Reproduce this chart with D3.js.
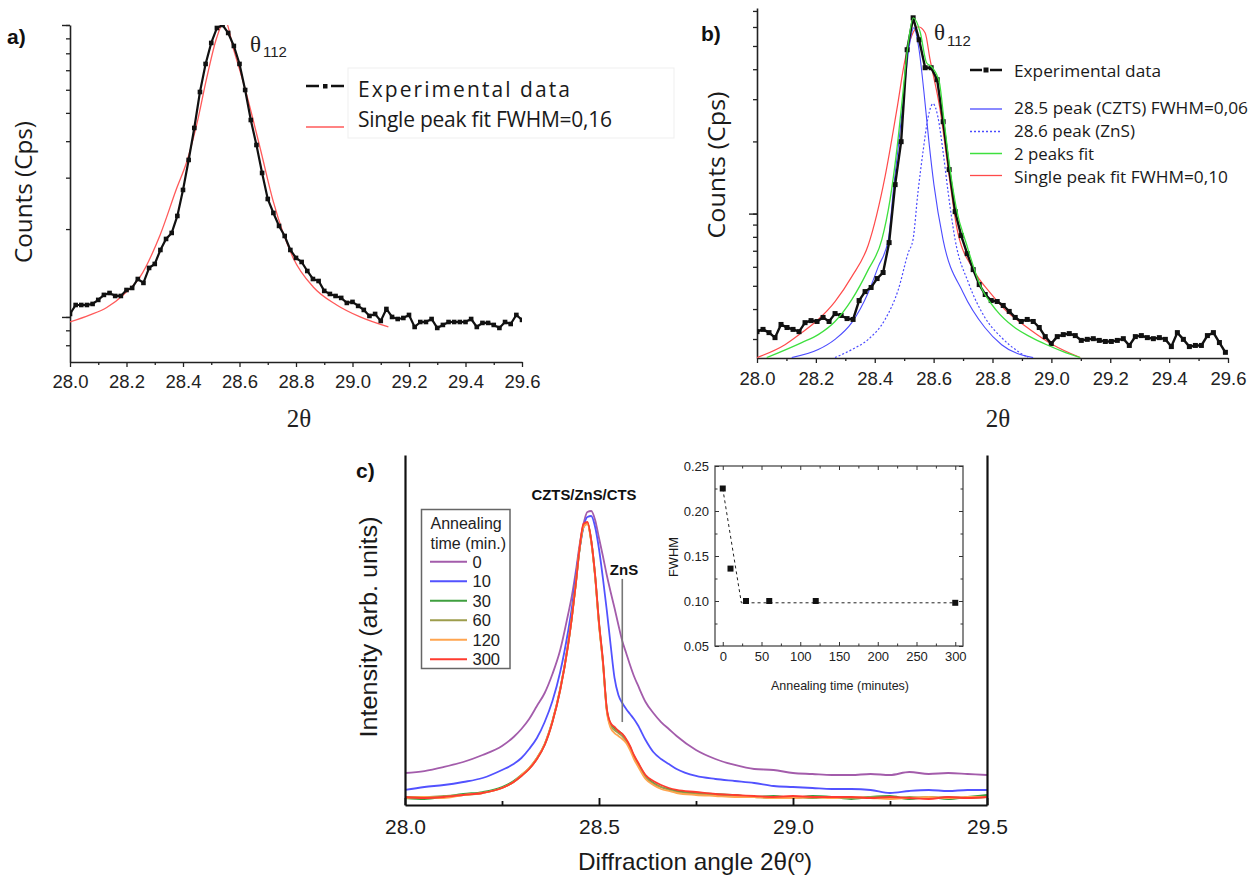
<!DOCTYPE html>
<html>
<head>
<meta charset="utf-8">
<script src="https://cdn.jsdelivr.net/npm/d3@7"></script>
<style>
  body { margin: 0; background: #fff; }
  svg { display: block; }
</style>
</head>
<body>
<svg id="fig" width="1260" height="879"></svg>
<script>
// ---------------- panel a: single XRD peak, single-peak fit ----------------
const aStart = 28.0, aStep = 0.02;
const countsA = [1024,1099,1099,1099,1108,1144,1190,1208,1180,1180,1237,1257,1349,1308,1472,1519,1696,1850,1940,2218,
  2723,3450,4440,5896,7356,8680,9768,10000,9391,8477,7356,5990,4727,3882,3113,2536,2271,2050,1894,1696,
  1593,1543,1437,1349,1328,1228,1199,1180,1162,1117,1126,1091,1057,1008,1024,969,1065,1000,984,992,
  1016,924,961,961,984,917,939,961,961,961,961,984,924,954,954,939,917,961,946,1016,977];
const fitA2Theta = [28.00,28.071,28.13,28.189,28.248,28.319,28.378,28.413,28.448,28.484,28.519,28.549,28.578,28.619,28.673,28.72,28.79,28.861,28.944,29.027,29.127];
const fitACounts = [961,1016,1078,1190,1371,1910,2765,3393,4537,6587,9027,10400,8327,6086,3790,2477,1593,1267,1099,1000,924];

// ---------------- panel b: peak split into CZTS + ZnS ----------------
const bStart = 28.0, bStep = 0.0204;
const countsB = [322,329,319,304,345,335,329,322,351,358,355,369,355,383,376,365,362,434,473,492,
  536,568,757,1321,1995,4823,6554,5309,4058,4058,3617,2417,1526,1019,810,681,584,506,460,434,
  430,414,391,369,355,362,355,335,307,287,307,313,316,310,296,299,301,296,293,293,
  296,301,282,307,310,304,301,304,299,279,319,299,279,282,282,310,319,290,264];
const cztsPeak2Theta = [28.118,28.208,28.265,28.322,28.378,28.412,28.446,28.465,28.482,28.499,28.516,28.533,28.550,28.567,28.584,28.601,28.632,28.700,28.774,28.831,28.938];
const cztsPeakCounts = [251,271,299,351,469,601,779,1321,1995,3162,4870,5957,4870,3224,1995,1321,779,469,335,284,251];
const znsPeak2Theta = [28.265,28.322,28.378,28.435,28.480,28.514,28.530,28.547,28.564,28.581,28.598,28.615,28.632,28.649,28.673,28.718,28.774,28.831,28.887,28.920];
const znsPeakCounts = [251,271,299,362,482,688,779,1235,1813,2512,2873,2512,1813,1235,779,516,369,304,266,251];
const twoPeak2Theta = [28.033,28.152,28.208,28.265,28.322,28.378,28.424,28.452,28.475,28.495,28.513,28.531,28.554,28.576,28.593,28.619,28.635,28.656,28.678,28.712,28.757,28.814,28.871,28.927,28.984,29.040,29.098];
const twoPeakCounts = [251,290,313,355,438,584,779,1144,1848,3131,5061,6554,5733,4257,4097,3548,2465,1526,1039,743,506,394,338,307,284,266,251];
const singleB2Theta = [28.0,28.095,28.152,28.208,28.265,28.322,28.378,28.435,28.475,28.503,28.527,28.548,28.571,28.588,28.622,28.653,28.678,28.735,28.791,28.842,28.927,29.005,29.098];
const singleBCounts = [251,284,319,362,430,546,740,1426,2713,4382,5569,6015,5678,4382,2713,1426,883,584,469,398,329,284,251];

// ---------------- panel c: annealing series ----------------
const c2Theta = [28.00,28.05,28.10,28.15,28.20,28.25,28.28,28.30,28.32,28.34,28.36,28.38,28.40,28.42,28.43,28.44,28.45,28.46,
  28.47,28.48,28.49,28.50,28.51,28.52,28.53,28.54,28.55,28.56,28.57,28.58,28.59,28.60,28.62,28.64,28.66,28.68,28.70,
  28.75,28.80,28.85,28.90,28.95,29.00,29.05,29.10,29.15,29.20,29.25,29.30,29.35,29.40,29.45,29.50];
const intensity0 = [9.14,9.71,10.86,12.29,14.29,16.86,19.43,21.71,24.57,28.29,32.0,37.43,44.29,54.29,59.71,66.57,74.29,80.29,
  83.71,84.0,81.43,76.29,71.14,65.71,60.86,56.29,51.43,46.86,43.43,40.0,36.86,34.29,29.43,26.29,23.71,21.71,19.71,
  15.71,13.14,11.43,10.29,10.0,9.14,8.86,8.57,8.57,8.86,8.57,9.43,8.86,9.14,8.86,8.57];
const intensity10 = [4.29,5.14,5.71,6.57,7.71,10.0,11.71,13.43,16.0,19.14,23.71,29.71,38.0,49.43,56.29,65.14,73.14,79.43,
  82.29,82.57,79.43,73.14,64.86,55.71,45.71,36.29,31.43,29.14,27.43,26.0,24.57,22.86,18.57,15.14,13.14,11.71,10.29,
  8.29,7.43,6.86,6.29,5.43,5.14,4.86,4.57,4.57,4.29,3.43,4.0,4.29,4.0,4.29,4.29];
const intensity30 = [2.0,1.71,2.29,3.14,3.71,5.14,6.86,8.57,10.57,13.43,17.43,24.0,33.14,45.71,53.71,63.14,73.14,79.43,
  80.57,75.43,65.43,52.0,41.14,27.43,23.14,22.0,21.14,20.29,18.57,16.57,14.0,12.0,8.29,6.29,5.14,4.57,4.0,
  3.43,3.14,2.86,2.29,2.57,2.0,2.57,2.29,1.71,2.29,2.57,1.71,2.29,1.71,2.29,2.86];
const intensity60 = [2.29,2.29,2.57,2.86,3.43,4.86,6.57,8.29,10.29,13.14,17.14,23.71,32.86,45.43,53.43,62.86,73.14,79.71,
  80.57,75.43,65.43,51.71,40.86,27.14,22.57,21.43,20.57,19.71,18.29,16.29,13.71,11.71,8.0,6.0,5.14,4.29,3.71,
  3.14,2.86,2.57,2.29,2.0,2.29,2.0,2.29,2.0,2.29,2.0,2.29,2.0,2.29,2.0,2.29];
const intensity120 = [2.0,2.29,2.0,2.86,3.43,4.86,6.57,8.57,10.57,13.43,17.43,24.0,33.14,45.71,53.71,63.14,73.43,79.43,
  80.29,75.14,65.14,51.43,40.57,26.86,22.0,20.57,19.71,18.86,17.71,15.71,13.14,11.14,7.43,5.71,4.57,4.0,3.43,
  2.86,2.57,2.29,2.29,2.0,2.0,2.29,2.0,2.29,2.0,1.71,2.0,2.29,2.0,2.29,2.29];
const intensity300 = [2.29,2.0,2.29,2.86,3.43,4.86,6.57,8.29,10.29,13.14,17.14,23.71,32.86,45.43,53.43,62.86,73.43,80.29,
  80.86,75.71,65.71,52.29,41.43,27.71,23.43,22.29,21.14,20.29,18.86,16.86,14.29,12.29,8.57,6.86,5.71,4.86,4.29,
  3.71,3.14,2.86,2.57,2.29,2.57,2.29,2.29,2.29,2.0,2.29,2.0,1.71,2.29,2.0,2.29];
const annealingLabels = ["0", "10", "30", "60", "120", "300"];
const annealingColors = ["#a35cab", "#5252ff", "#3f9f3f", "#9d9d4c", "#ffa54f", "#ff3b2f"];
const znsMarker2Theta = 28.56;

// inset: FWHM vs annealing time
const annealTimes = [0, 10, 30, 60, 120, 300];
const fwhmValues = [0.225, 0.136, 0.100, 0.100, 0.100, 0.098];
const trendTimes = [0, 24, 300];
const trendFwhm = [0.225, 0.098, 0.098];

// tick values
const xTicksAB = [28.0, 28.2, 28.4, 28.6, 28.8, 29.0, 29.2, 29.4, 29.6];
const xMinorAB = [28.1, 28.3, 28.5, 28.7, 28.9, 29.1, 29.3, 29.5];
const logTicksA = [800, 900, 1000, 2000, 3000, 4000, 5000, 6000, 7000, 8000, 9000, 10000];
const logMajorA = [1000, 10000];
const logTicksB = [300, 400, 500, 600, 700, 800, 900, 1000, 2000, 3000, 4000, 5000, 6000, 7000];
const logMajorB = [1000];
const xTicksC = [28.0, 28.5, 29.0, 29.5];
const xMinorC = [28.25, 28.75, 29.25];
const insetXTicks = [0, 50, 100, 150, 200, 250, 300];
const insetXMinor = [25, 75, 125, 175, 225, 275];
const insetYTicks = [0.05, 0.10, 0.15, 0.20, 0.25];
const insetYMinor = [0.075, 0.125, 0.175, 0.225];

const SANS = "'Liberation Sans', Arial, sans-serif";
const OPEN = "'Open Sans', 'DejaVu Sans', sans-serif";
const SERIF = "'Liberation Serif', 'Times New Roman', serif";

const svg = d3.select("#fig");
const defs = svg.append("defs");

function styleAxis(ax, color, width) {
  ax.select(".domain").attr("stroke", color).attr("stroke-width", width);
  ax.selectAll(".tick line").attr("stroke", color).attr("stroke-width", Math.max(1, width - 0.3));
}

function bottomAxisAB(x, y0, pad) {
  const major = svg.append("g").attr("transform", `translate(0,${y0})`)
    .call(d3.axisBottom(x).tickValues(xTicksAB).tickFormat(d3.format(".1f"))
      .tickSize(5).tickSizeOuter(0).tickPadding(pad));
  styleAxis(major, "#222", 1.6);
  major.selectAll("text").attr("font-family", SANS).attr("font-size", 18.5).attr("fill", "#222");
  const minor = svg.append("g").attr("transform", `translate(0,${y0})`)
    .call(d3.axisBottom(x).tickValues(xMinorAB).tickFormat("").tickSize(3).tickSizeOuter(0));
  minor.select(".domain").remove();
  minor.selectAll(".tick line").attr("stroke", "#222").attr("stroke-width", 1.3);
}

function leftLogAxis(y, x0, ticks, majors) {
  const ax = svg.append("g").attr("transform", `translate(${x0},0)`)
    .call(d3.axisLeft(y).tickValues(ticks).tickFormat("").tickSize(4).tickSizeOuter(0));
  styleAxis(ax, "#222", 1.6);
  const mj = svg.append("g").attr("transform", `translate(${x0},0)`)
    .call(d3.axisLeft(y).tickValues(majors).tickFormat("").tickSize(8).tickSizeOuter(0));
  mj.select(".domain").remove();
  mj.selectAll(".tick line").attr("stroke", "#222").attr("stroke-width", 1.4);
}

function verticalTitle(text, x, y, size, len, family) {
  svg.append("text").attr("transform", `translate(${x},${y}) rotate(-90)`)
    .attr("text-anchor", "middle").attr("font-family", family).attr("font-size", size)
    .attr("fill", "#1a1a1a").attr("textLength", len).attr("lengthAdjust", "spacingAndGlyphs").text(text);
}

function thetaLabel(x, y, yb) {
  const t = svg.append("text").attr("font-family", SERIF).attr("fill", "#222");
  t.append("tspan").attr("x", x).attr("y", y).attr("font-size", 23).text("θ");
  t.append("tspan").attr("x", x + 13).attr("y", yb).attr("font-family", SANS).attr("font-size", 15).text("112");
}

// =============== panel a ===============
const xA = d3.scaleLinear().domain([28, 29.6]).range([70, 522]);
const yA = d3.scaleLog().domain([701, 10000]).range([362, 25]);
defs.append("clipPath").attr("id", "clipA").append("rect").attr("x", 70).attr("y", 25).attr("width", 452).attr("height", 337);

bottomAxisAB(xA, 362, 8);
leftLogAxis(yA, 70, logTicksA, logMajorA);

const gA = svg.append("g").attr("clip-path", "url(#clipA)");
gA.append("path")
  .attr("d", d3.line().x((d, i) => xA(fitA2Theta[i])).y(d => yA(d)).curve(d3.curveMonotoneX)(fitACounts))
  .attr("fill", "none").attr("stroke", "#ff5a5a").attr("stroke-width", 1.3);
gA.append("path")
  .attr("d", d3.line().x((d, i) => xA(aStart + i * aStep)).y(d => yA(d))(countsA))
  .attr("fill", "none").attr("stroke", "#111").attr("stroke-width", 2.2);
gA.selectAll("rect.mk").data(countsA).join("rect").attr("class", "mk")
  .attr("x", (d, i) => xA(aStart + i * aStep) - 2.3).attr("y", d => yA(d) - 2.3)
  .attr("width", 4.6).attr("height", 4.6).attr("fill", "#111");

svg.append("text").attr("x", 7).attr("y", 44).attr("font-family", SANS).attr("font-weight", "bold")
  .attr("font-size", 21).attr("fill", "#111").text("a)");
thetaLabel(250, 52, 57);
verticalTitle("Counts (Cps)", 32, 192, 24, 142, OPEN);
svg.append("text").attr("x", 299).attr("y", 427).attr("text-anchor", "middle").attr("font-family", SERIF)
  .attr("font-size", 25).attr("fill", "#222").text("2θ");

// legend a
svg.append("rect").attr("x", 348).attr("y", 68).attr("width", 326).attr("height", 70)
  .attr("fill", "none").attr("stroke", "#efefef").attr("stroke-width", 1);
svg.append("path").attr("d", "M306,86H319M331,86H344").attr("stroke", "#111").attr("stroke-width", 2.6);
svg.append("rect").attr("x", 323).attr("y", 84).attr("width", 4.5).attr("height", 4.5).attr("fill", "#111");
svg.append("line").attr("x1", 306).attr("x2", 344).attr("y1", 127).attr("y2", 127)
  .attr("stroke", "#ff5a5a").attr("stroke-width", 1.3);
svg.append("text").attr("x", 358).attr("y", 96.5).attr("font-family", OPEN).attr("font-size", 21)
  .attr("fill", "#1a1a1a").attr("textLength", 212).attr("lengthAdjust", "spacing").text("Experimental data");
svg.append("text").attr("x", 358).attr("y", 126.5).attr("font-family", OPEN).attr("font-size", 21)
  .attr("fill", "#1a1a1a").attr("textLength", 254).attr("lengthAdjust", "spacing").text("Single peak fit FWHM=0,16");

// =============== panel b ===============
const xB = d3.scaleLinear().domain([28, 29.6]).range([757, 1228]);
const yB = d3.scaleLog().domain([250, 7200]).range([358, 8]);
defs.append("clipPath").attr("id", "clipB").append("rect").attr("x", 757).attr("y", 8).attr("width", 471).attr("height", 350);

bottomAxisAB(xB, 358, 8.5);
leftLogAxis(yB, 757, logTicksB, logMajorB);

const gB = svg.append("g").attr("clip-path", "url(#clipB)");
const fitLine = (xs) => d3.line().x((d, i) => xB(xs[i])).y(d => yB(d)).curve(d3.curveMonotoneX);
gB.append("path").attr("d", fitLine(singleB2Theta)(singleBCounts))
  .attr("fill", "none").attr("stroke", "#ff4a4a").attr("stroke-width", 1.2);
gB.append("path").attr("d", fitLine(znsPeak2Theta)(znsPeakCounts))
  .attr("fill", "none").attr("stroke", "#4b4bff").attr("stroke-width", 1.2).attr("stroke-dasharray", "2,2");
gB.append("path").attr("d", fitLine(cztsPeak2Theta)(cztsPeakCounts))
  .attr("fill", "none").attr("stroke", "#4b4bff").attr("stroke-width", 1.1);
gB.append("path")
  .attr("d", d3.line().x((d, i) => xB(bStart + i * bStep)).y(d => yB(d))(countsB))
  .attr("fill", "none").attr("stroke", "#111").attr("stroke-width", 2.4);
gB.selectAll("rect.mk").data(countsB).join("rect").attr("class", "mk")
  .attr("x", (d, i) => xB(bStart + i * bStep) - 2.5).attr("y", d => yB(d) - 2.5)
  .attr("width", 5).attr("height", 5).attr("fill", "#111");
gB.append("path").attr("d", fitLine(twoPeak2Theta)(twoPeakCounts))
  .attr("fill", "none").attr("stroke", "#3ee03e").attr("stroke-width", 1.3);

svg.append("text").attr("x", 701).attr("y", 41).attr("font-family", SANS).attr("font-weight", "bold")
  .attr("font-size", 21).attr("fill", "#111").text("b)");
thetaLabel(934, 40, 46);
verticalTitle("Counts (Cps)", 725, 165, 24.5, 147, OPEN);
svg.append("text").attr("x", 998).attr("y", 427).attr("text-anchor", "middle").attr("font-family", SERIF)
  .attr("font-size", 25).attr("fill", "#222").text("2θ");

// legend b
const legB = [
  { label: "Experimental data", y: 70, ty: 77, len: 147, color: "#111", dash: null, w: 2.6 },
  { label: "28.5 peak (CZTS) FWHM=0,06", y: 109, ty: 114, len: 234, color: "#4b4bff", dash: null, w: 1.3 },
  { label: "28.6 peak (ZnS)", y: 131.5, ty: 137, len: 121, color: "#4b4bff", dash: "2,2", w: 1.4 },
  { label: "2 peaks fit", y: 153.5, ty: 160, len: 80, color: "#3ee03e", dash: null, w: 1.5 },
  { label: "Single peak fit FWHM=0,10", y: 175.5, ty: 183, len: 214, color: "#ff4a4a", dash: null, w: 1.3 }
];
legB.forEach((d, i) => {
  if (i === 0) {
    svg.append("path").attr("d", `M970,${d.y}H982M990,${d.y}H1002`).attr("stroke", d.color).attr("stroke-width", d.w);
    svg.append("rect").attr("x", 983.5).attr("y", d.y - 2.5).attr("width", 5).attr("height", 5).attr("fill", "#111");
  } else {
    svg.append("line").attr("x1", 970).attr("x2", 1002).attr("y1", d.y).attr("y2", d.y)
      .attr("stroke", d.color).attr("stroke-width", d.w).attr("stroke-dasharray", d.dash);
  }
  svg.append("text").attr("x", 1014).attr("y", d.ty).attr("font-family", OPEN).attr("font-size", 17)
    .attr("fill", "#1a1a1a").attr("textLength", d.len).attr("lengthAdjust", "spacingAndGlyphs").text(d.label);
});

// =============== panel c ===============
const xC = d3.scaleLinear().domain([28, 29.5]).range([405, 987]);
const yC = d3.scaleLinear().domain([0, 100]).range([805, 455]);

const lineC = d3.line().x((d, i) => xC(c2Theta[i])).y(d => yC(d)).curve(d3.curveMonotoneX);
const seriesC = [intensity0, intensity10, intensity30, intensity60, intensity120, intensity300];
seriesC.forEach((s, k) => {
  svg.append("path").attr("d", lineC(s)).attr("fill", "none")
    .attr("stroke", annealingColors[k]).attr("stroke-width", 1.8).attr("stroke-linejoin", "round");
});

const axC = svg.append("g").attr("transform", "translate(0,805)")
  .call(d3.axisBottom(xC).tickValues(xTicksC).tickFormat(d3.format(".1f")).tickSize(-7).tickSizeOuter(0).tickPadding(14));
styleAxis(axC, "#111", 2.2);
axC.selectAll("text").attr("font-family", SANS).attr("font-size", 21).attr("fill", "#1a1a1a");
const axCm = svg.append("g").attr("transform", "translate(0,805)")
  .call(d3.axisBottom(xC).tickValues(xMinorC).tickFormat("").tickSize(-4).tickSizeOuter(0));
axCm.select(".domain").remove();
axCm.selectAll(".tick line").attr("stroke", "#111").attr("stroke-width", 1.8);
const axCl = svg.append("g").attr("transform", "translate(405,0)")
  .call(d3.axisLeft(yC).tickValues([]).tickSizeOuter(0));
styleAxis(axCl, "#111", 2.2);
const axCr = svg.append("g").attr("transform", "translate(987,0)")
  .call(d3.axisRight(yC).tickValues([]).tickSizeOuter(0));
styleAxis(axCr, "#111", 2.2);

svg.append("text").attr("x", 356).attr("y", 478).attr("font-family", SANS).attr("font-weight", "bold")
  .attr("font-size", 21).attr("fill", "#111").text("c)");
verticalTitle("Intensity (arb. units)", 377, 627, 23.5, 221, SANS);
svg.append("text").attr("x", 695).attr("y", 870).attr("text-anchor", "middle").attr("font-family", SANS)
  .attr("font-size", 24).attr("fill", "#1a1a1a").attr("textLength", 234).attr("lengthAdjust", "spacingAndGlyphs")
  .text("Diffraction angle 2θ(º)");

svg.append("text").attr("x", 584).attr("y", 500).attr("text-anchor", "middle").attr("font-family", SANS)
  .attr("font-weight", "bold").attr("font-size", 15).attr("fill", "#111")
  .attr("textLength", 105).attr("lengthAdjust", "spacingAndGlyphs").text("CZTS/ZnS/CTS");
svg.append("text").attr("x", 624).attr("y", 575).attr("text-anchor", "middle").attr("font-family", SANS)
  .attr("font-weight", "bold").attr("font-size", 15).attr("fill", "#111").text("ZnS");
svg.append("line").attr("x1", xC(znsMarker2Theta)).attr("x2", xC(znsMarker2Theta))
  .attr("y1", yC(64.6)).attr("y2", yC(23.7)).attr("stroke", "#777").attr("stroke-width", 1.6);

// legend c
svg.append("rect").attr("x", 421.5).attr("y", 509.5).attr("width", 88.5).attr("height", 159)
  .attr("fill", "#fff").attr("stroke", "#666").attr("stroke-width", 1.5);
svg.append("text").attr("x", 430.5).attr("y", 529).attr("font-family", SANS).attr("font-size", 16)
  .attr("fill", "#222").text("Annealing");
svg.append("text").attr("x", 430.5).attr("y", 548.5).attr("font-family", SANS).attr("font-size", 16)
  .attr("fill", "#222").text("time (min.)");
annealingLabels.forEach((lab, k) => {
  const yy = 561.7 + k * 19.5;
  svg.append("line").attr("x1", 430).attr("x2", 467).attr("y1", yy).attr("y2", yy)
    .attr("stroke", annealingColors[k]).attr("stroke-width", 2);
  svg.append("text").attr("x", 472.5).attr("y", yy + 6).attr("font-family", SANS).attr("font-size", 16.5)
    .attr("fill", "#222").text(lab);
});

// =============== inset ===============
const xI = d3.scaleLinear().domain([-10, 310]).range([715, 963]);
const yI = d3.scaleLinear().domain([0.05, 0.25]).range([646, 466]);
svg.append("rect").attr("x", 715).attr("y", 466).attr("width", 248).attr("height", 180)
  .attr("fill", "#fff").attr("stroke", "#4a4a4a").attr("stroke-width", 1.3);

function insetAxis(gen, tx, ty, ticks, size, fmt) {
  const g = svg.append("g").attr("transform", `translate(${tx},${ty})`)
    .call(gen.tickValues(ticks).tickSize(size).tickSizeOuter(0).tickFormat(fmt).tickPadding(6));
  g.select(".domain").remove();
  g.selectAll(".tick line").attr("stroke", "#333").attr("stroke-width", 1);
  g.selectAll("text").attr("font-family", SANS).attr("font-size", 13).attr("fill", "#222");
  return g;
}
insetAxis(d3.axisBottom(xI), 0, 646, insetXTicks, -4, d3.format("d"));
insetAxis(d3.axisBottom(xI), 0, 646, insetXMinor, -2.5, "");
insetAxis(d3.axisTop(xI), 0, 466, insetXTicks, -4, "");
insetAxis(d3.axisTop(xI), 0, 466, insetXMinor, -2.5, "");
insetAxis(d3.axisLeft(yI), 715, 0, insetYTicks, -4, d3.format(".2f"));
insetAxis(d3.axisLeft(yI), 715, 0, insetYMinor, -2.5, "");
insetAxis(d3.axisRight(yI), 963, 0, insetYTicks, -4, "");
insetAxis(d3.axisRight(yI), 963, 0, insetYMinor, -2.5, "");

svg.append("path")
  .attr("d", d3.line().x((d, i) => xI(trendTimes[i])).y(d => yI(d))(trendFwhm))
  .attr("fill", "none").attr("stroke", "#222").attr("stroke-width", 1).attr("stroke-dasharray", "3,3");
svg.selectAll("rect.fw").data(fwhmValues).join("rect").attr("class", "fw")
  .attr("x", (d, i) => xI(annealTimes[i]) - 3).attr("y", d => yI(d) - 3)
  .attr("width", 6).attr("height", 6).attr("fill", "#111");

svg.append("text").attr("x", 840).attr("y", 689.5).attr("text-anchor", "middle").attr("font-family", SANS)
  .attr("font-size", 13).attr("fill", "#222").attr("textLength", 138).attr("lengthAdjust", "spacingAndGlyphs")
  .text("Annealing time (minutes)");
verticalTitle("FWHM", 678, 557, 13, 40, SANS);
</script>
</body>
</html>
